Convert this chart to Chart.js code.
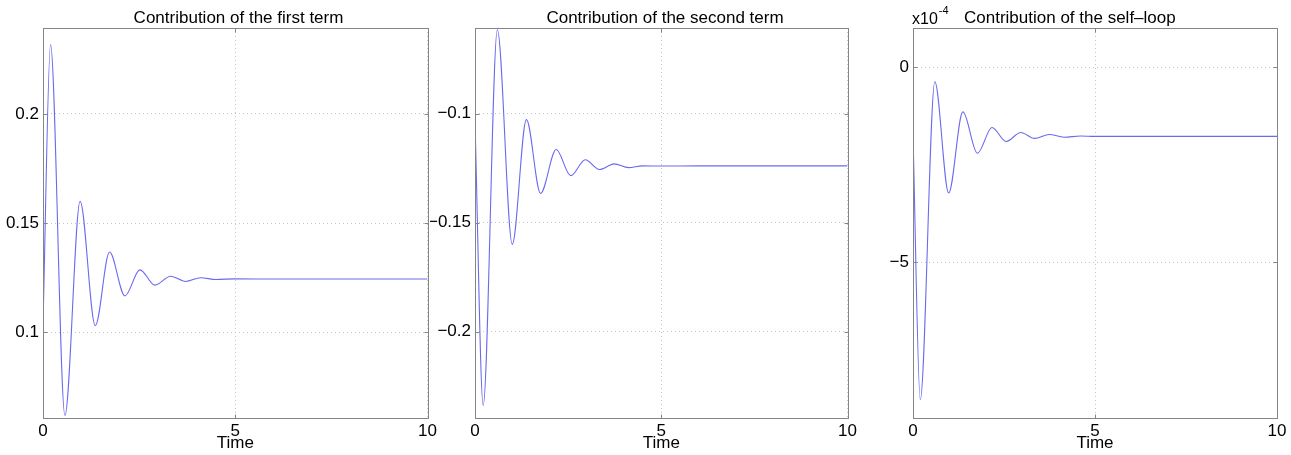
<!DOCTYPE html>
<html><head><meta charset="utf-8">
<script src="https://cdn.jsdelivr.net/npm/chart.js@4.4.1/dist/chart.umd.min.js"></script>
<style>
html,body{margin:0;padding:0;background:#fff;width:1291px;height:455px;overflow:hidden;}
canvas{position:absolute;top:0;}
</style></head><body>
<canvas id="c1" width="440" height="455" style="left:0px;width:440px;height:455px"></canvas>
<canvas id="c2" width="430" height="455" style="left:430px;width:430px;height:455px"></canvas>
<canvas id="c3" width="421" height="455" style="left:870px;width:421px;height:455px"></canvas>
<script>
// ---- data ----
const timeFirst  = [0, 0.196, 0.57, 0.965, 1.36, 1.73, 2.13, 2.52, 2.91, 3.32, 3.71, 4.1, 4.5, 5, 6, 7, 8, 9, 10];
const firstTerm  = [0.104, 0.2318, 0.0618, 0.160, 0.1029, 0.1367, 0.1166, 0.1285, 0.1215, 0.1256, 0.1232, 0.1249, 0.1241, 0.1244, 0.1243, 0.1243, 0.1243, 0.1243, 0.1243];

const timeSecond = [0, 0.22, 0.6, 1.0, 1.38, 1.76, 2.18, 2.57, 2.96, 3.34, 3.74, 4.12, 4.5, 5, 6, 7, 8, 9, 10];
const secondTerm = [-0.104, -0.2338, -0.0616, -0.160, -0.1028, -0.1366, -0.1165, -0.1285, -0.1212, -0.1257, -0.1231, -0.1248, -0.1240, -0.1241, -0.1240, -0.1240, -0.1240, -0.1240, -0.1240];

const timeSelf   = [0, 0.2, 0.6, 0.98, 1.37, 1.77, 2.17, 2.56, 2.96, 3.34, 3.74, 4.15, 4.6, 5, 6, 7, 8, 9, 10];
const selfLoop   = [-1.77, -8.53, -0.38, -3.23, -1.15, -2.21, -1.55, -1.91, -1.68, -1.83, -1.73, -1.80, -1.77, -1.78, -1.78, -1.78, -1.78, -1.78, -1.78]; // x10^-4

const xTicks = [0, 5, 10];
const xTickLabels = ['0', '5', '10'];
const yTicksFirst = [0.1, 0.15, 0.2];
const yLabelsFirst = ['0.1', '0.15', '0.2'];
const yTicksSecond = [-0.2, -0.15, -0.1];
const yLabelsSecond = ['\u22120.2', '\u22120.15', '\u22120.1'];
const yTicksSelf = [-5, 0];
const yLabelsSelf = ['\u22125', '0'];

const titles = ['Contribution of the first term', 'Contribution of the second term', 'Contribution of the self\u2013loop'];
const xTitle = 'Time';

const FONT = '"Liberation Sans", Arial, Helvetica, sans-serif';
const LINE = '#6a6af0';
const BOX = '#858585';
const GRID = '#c4c4c4';

function framePlugin(o) {
  return {
    id: 'frame',
    afterDraw(chart) {
      const { ctx, chartArea: a, scales } = chart;
      ctx.save();
      ctx.strokeStyle = BOX;
      ctx.lineWidth = 1;
      const l = Math.round(a.left) + 0.5, r = Math.round(a.right) + 0.5;
      const t = Math.round(a.top) + 0.5, b = Math.round(a.bottom) + 0.5;
      ctx.strokeRect(l, t, r - l, b - t);
      const L = 4;
      ctx.beginPath();
      scales.x.ticks.forEach(tk => {
        const x = Math.round(scales.x.getPixelForValue(tk.value)) + 0.5;
        ctx.moveTo(x, b); ctx.lineTo(x, b - L);
        ctx.moveTo(x, t); ctx.lineTo(x, t + L);
      });
      scales.y.ticks.forEach(tk => {
        const y = Math.round(scales.y.getPixelForValue(tk.value)) + 0.5;
        ctx.moveTo(l, y); ctx.lineTo(l + L, y);
        ctx.moveTo(r, y); ctx.lineTo(r - L, y);
      });
      ctx.stroke();
      ctx.fillStyle = '#000';
      ctx.font = '17px ' + FONT;
      ctx.textBaseline = 'alphabetic';
      ctx.textAlign = o.align;
      ctx.fillText(o.title, o.tx, 23);
      ctx.textAlign = 'center';
      ctx.fillText(xTitle, (a.left + a.right) / 2, 448);
      if (o.exp) {
        ctx.font = '16px ' + FONT;
        ctx.textAlign = 'left';
        ctx.fillText('x10', o.expX, 24);
        const w = ctx.measureText('x10').width;
        ctx.font = '11px ' + FONT;
        ctx.fillText('-4', o.expX + w + 1, 14);
      }
      ctx.restore();
    }
  };
}

function makeChart(id, xs, ys, yMin, yMax, yT, yL, axisW, padRight, o) {
  const pts = xs.map((x, i) => ({ x: x, y: ys[i] }));
  return new Chart(document.getElementById(id), {
    type: 'line',
    data: { datasets: [{ data: pts, borderColor: LINE, borderWidth: 1.1, pointRadius: 0, fill: false, cubicInterpolationMode: 'monotone' }] },
    options: {
      responsive: false, animation: false, devicePixelRatio: 1,
      layout: { padding: { top: 28, right: padRight, bottom: 0, left: 0 } },
      plugins: { legend: { display: false }, tooltip: { enabled: false }, title: { display: false } },
      scales: {
        x: {
          type: 'linear', min: 0, max: 10,
          afterBuildTicks: s => { s.ticks = xTicks.map(v => ({ value: v })); },
          afterFit: s => { s.height = 37; },
          ticks: { autoSkip: false, maxRotation: 0, padding: 3, color: '#000', font: { family: FONT, size: 17 },
                   callback: v => xTickLabels[xTicks.indexOf(v)] },
          grid: { color: GRID, drawTicks: false, lineWidth: 1 },
          border: { display: false, dash: [1, 3] }
        },
        y: {
          type: 'linear', min: yMin, max: yMax,
          afterBuildTicks: s => { s.ticks = yT.map(v => ({ value: v })); },
          afterFit: s => { s.width = axisW; },
          ticks: { autoSkip: false, padding: 4, color: '#000', font: { family: FONT, size: 17 },
                   callback: v => { const i = yT.findIndex(q => Math.abs(q - v) < 1e-9); return i >= 0 ? yL[i] : ''; } },
          grid: { color: GRID, drawTicks: false, lineWidth: 1 },
          border: { display: false, dash: [1, 3] }
        }
      }
    },
    plugins: [framePlugin(o)]
  });
}

makeChart('c1', timeFirst, firstTerm, 0.0606, 0.2394, yTicksFirst, yLabelsFirst, 43, 11,
  { title: titles[0], tx: 238.5, align: 'center' });
makeChart('c2', timeSecond, secondTerm, -0.2396, -0.0608, yTicksSecond, yLabelsSecond, 45, 11,
  { title: titles[1], tx: 235, align: 'center' });
makeChart('c3', timeSelf, selfLoop, -9, 1, yTicksSelf, yLabelsSelf, 43, 14,
  { title: titles[2], tx: 94, align: 'left', exp: true, expX: 42 });
</script>
</body></html>
